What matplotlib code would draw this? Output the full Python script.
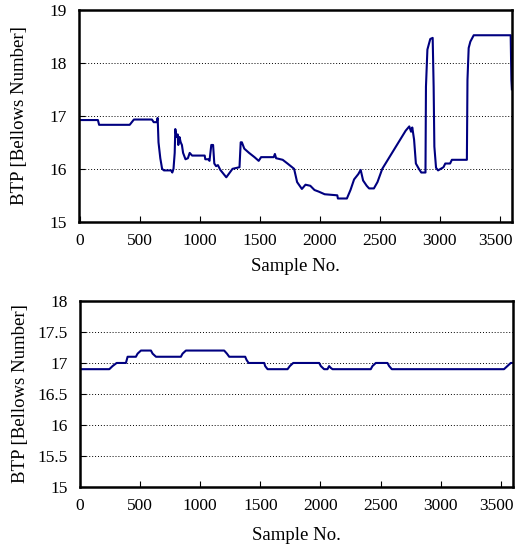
import numpy as np
import matplotlib.pyplot as plt
from matplotlib.transforms import ScaledTranslation

plt.rcParams['font.family'] = ['Liberation Serif', 'DejaVu Serif']

# upper trace: sample number / BTP
top_x = [0, 150, 160, 415, 450, 600, 615, 640, 648, 655, 670, 685, 700, 760, 770,
         780, 790, 795, 805, 815, 820, 830, 840, 850, 860, 880, 900, 915, 935, 1040,
         1045, 1070, 1080, 1095, 1110, 1120, 1135, 1150, 1170, 1220, 1272, 1330, 1340,
         1350, 1370, 1410, 1455, 1490, 1510, 1615, 1625, 1635, 1690, 1730, 1785, 1810,
         1850, 1880, 1920, 1955, 1990, 2040, 2145, 2150, 2225, 2255, 2285, 2320, 2340,
         2360, 2390, 2410, 2450, 2480, 2520, 2715, 2745, 2760, 2770, 2785, 2800, 2825,
         2845, 2880, 2884, 2896, 2920, 2940, 2948, 2954, 2968, 2985, 3030, 3045, 3085,
         3100, 3225, 3230, 3240, 3254, 3282, 3590, 3596, 3600]
top_y = [16.92, 16.92, 16.83, 16.83, 16.93, 16.93, 16.88, 16.88, 16.96, 16.5, 16.2,
         16.0, 15.97, 15.97, 15.93, 16.0, 16.3, 16.75, 16.6, 16.65, 16.45, 16.6, 16.5,
         16.45, 16.3, 16.18, 16.2, 16.3, 16.25, 16.25, 16.18, 16.18, 16.15, 16.45, 16.45,
         16.1, 16.05, 16.07, 15.98, 15.84, 16.0, 16.03, 16.5, 16.5, 16.38, 16.3, 16.22,
         16.15, 16.22, 16.22, 16.28, 16.2, 16.17, 16.1, 16.0, 15.75, 15.62, 15.7, 15.68,
         15.6, 15.57, 15.52, 15.5, 15.44, 15.44, 15.6, 15.8, 15.9, 15.98, 15.78, 15.68,
         15.63, 15.63, 15.75, 16.0, 16.72, 16.8, 16.7, 16.78, 16.55, 16.1, 16.0, 15.93,
         15.93, 17.55, 18.25, 18.45, 18.47, 17.55, 16.42, 16.02, 15.97, 16.03, 16.1,
         16.1, 16.17, 16.17, 17.68, 18.28, 18.4, 18.52, 18.52, 17.68, 17.5]

# lower trace
bot_x = [0, 244, 271, 305, 382, 396, 465, 479, 507, 590, 604, 632, 839, 853, 881,
         1199, 1222, 1241, 1374, 1385, 1402, 1532, 1540, 1560, 1726, 1745, 1773, 1989,
         2003, 2030, 2058, 2072, 2086, 2100, 2418, 2432, 2460, 2557, 2571, 2593, 3526,
         3554, 3582, 3600]
bot_y = [16.9, 16.9, 16.95, 17.0, 17.0, 17.1, 17.1, 17.15, 17.2, 17.2, 17.15, 17.1,
         17.1, 17.15, 17.2, 17.2, 17.15, 17.1, 17.1, 17.05, 17.0, 17.0, 16.95, 16.9,
         16.9, 16.95, 17.0, 17.0, 16.95, 16.9, 16.9, 16.95, 16.92, 16.9, 16.9, 16.95,
         17.0, 17.0, 16.95, 16.9, 16.9, 16.95, 17.0, 17.0]

fig = plt.figure(figsize=(5.16, 5.45), dpi=100)
ax1 = fig.add_axes([0.153, 0.593, 0.839, 0.389])
ax2 = fig.add_axes([0.155, 0.106, 0.839, 0.342])

panels = [
    (ax1, top_x, top_y, (-8, 3600), (15, 19), [15, 16, 17, 18, 19],
     ['15', '16', '17', '18', '19'], -0.17),
    (ax2, bot_x, bot_y, (0, 3600), (15, 18), [15, 15.5, 16, 16.5, 17, 17.5, 18],
     ['15', '15.5', '16', '16.5', '17', '17.5', '18'], -0.215),
]

for ax, x, y, xl, yl, yt, ytl, xlab_y in panels:
    ax.plot(x, y, color='#000080', lw=1.5)
    ax.set_xlim(*xl)
    ax.set_ylim(*yl)
    ax.set_xticks(np.arange(0, 3501, 500))
    ax.set_yticks(yt)
    ax.set_yticklabels(ytl)
    ax.grid(axis='y', linestyle=(0, (1, 2)), color='black', lw=0.7)
    ax.tick_params(direction='in', length=4, labelsize=12.5)
    ax.tick_params(axis='x', pad=8)
    ax.tick_params(axis='y', pad=9)
    for s in ax.spines.values():
        s.set_linewidth(1.8)
    ax.set_xlabel('Sample No.', fontsize=13.5)
    ax.set_ylabel('BTP [Bellows Number]', fontsize=13.5)
    ax.xaxis.set_label_coords(0.5, xlab_y)
    ax.yaxis.set_label_coords(-0.118, 0.5)
    # last x label sits against the right edge, nudge it in a bit
    last = ax.get_xticklabels()[-1]
    last.set_transform(last.get_transform() + ScaledTranslation(-3.5 / 72, 0, fig.dpi_scale_trans))

fig.savefig('out.png', dpi=100)
